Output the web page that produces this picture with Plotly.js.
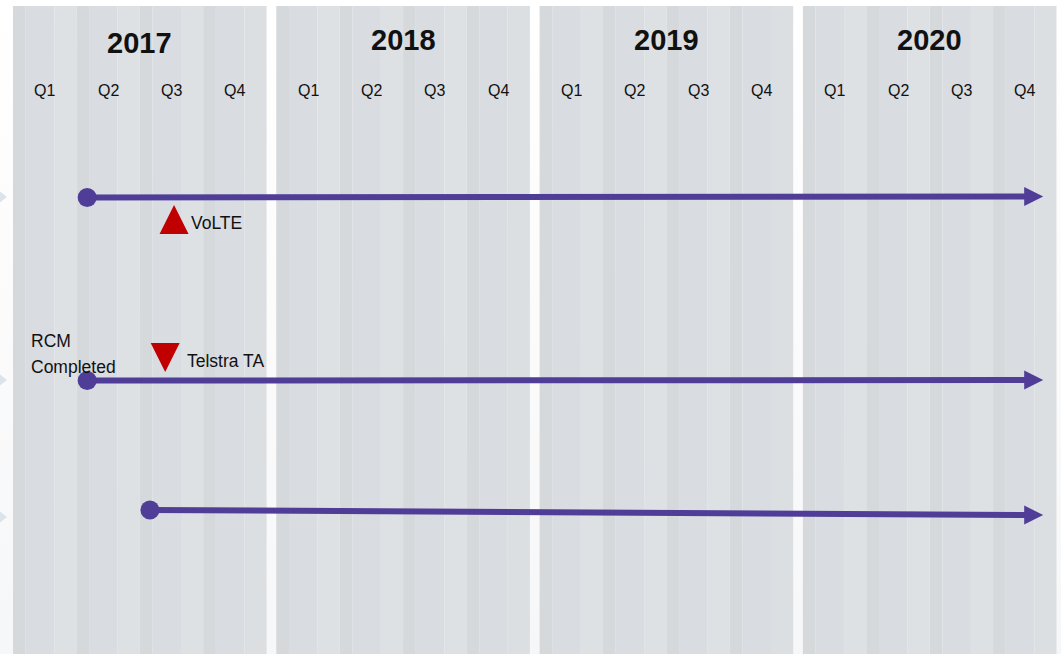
<!DOCTYPE html>
<html>
<head>
<meta charset="utf-8">
<script src="https://cdn.plot.ly/plotly-3.0.1.min.js"></script>
<style>
html,body{margin:0;padding:0;}
#chart{width:1061px;height:654px;background:linear-gradient(#ffffff 0%, #fbfbfc 50%, #f6f7f8 100%);}
</style>
</head>
<body>
<div id="chart"></div>
<script>
// ---------- data ----------
const years = ['2017', '2018', '2019', '2020'];
const quarters = ['Q1', 'Q2', 'Q3', 'Q4'];

// timeline bars: positions in quarters elapsed since start of 2017 Q1, row position
const lineStartQ = [1.17, 1.17, 2.16];
const lineEndQ = [15.79, 15.79, 15.79];
const lineStartRow = [197.5, 380.5, 510];
const lineEndRow = [196.5, 380, 515];

// milestones
const milestoneNames = ['VoLTE', 'Telstra TA'];
const milestoneQ = [2.54, 2.40];
const milestoneRow = [219.5, 357.5];
const milestoneDir = ['up', 'down'];

// notes
const noteLines = ['RCM', 'Completed'];
const noteQ = [0.27, 0.27];
const noteRow = [340.7, 366.7];

// left-edge chevrons rows
const chevronRows = [197, 380, 517];

// ---------- layout helpers ----------
const W = 1061, H = 654;
const X0 = 13, QW = 63.4, GAP = 9.7;
function qToX(q) {
  const yi = Math.min(3, Math.floor(q / 4));
  return X0 + q * QW + yi * GAP;
}
const purple = '#503d97';
const red = '#c00000';
const font = 'Liberation Sans, Arial, sans-serif';

const shapes = [];
const annotations = [];

// year panels with quarter strips
const stripFr = [[0, 0.2], [0.2, 0.65], [0.65, 1]];
const stripCol = ['#d5d9dc', '#d9dce0', '#dee1e4'];
const yearLabelRow = [42.5, 39.5, 39.5, 39.5];
years.forEach((yr, i) => {
  const px0 = X0 + i * (4 * QW + GAP);
  quarters.forEach((qq, j) => {
    const qx0 = px0 + j * QW;
    stripFr.forEach((fr, k) => {
      shapes.push({type: 'rect', xref: 'x', yref: 'y', layer: 'below',
        x0: qx0 + fr[0] * QW, x1: qx0 + fr[1] * QW, y0: 6, y1: H + 2,
        fillcolor: (j === 3 && k === 2) ? '#dcdfe2' : stripCol[k], line: {width: 0}});
    });
    annotations.push({x: qx0 + QW / 2, y: 90, xref: 'x', yref: 'y', text: qq, showarrow: false,
      xanchor: 'center', yanchor: 'middle', font: {family: font, size: 16, color: '#111'}});
  });
  annotations.push({x: px0 + 2 * QW, y: yearLabelRow[i], xref: 'x', yref: 'y', text: '<b>' + yr + '</b>',
    showarrow: false, xanchor: 'center', yanchor: 'middle', font: {family: font, size: 29, color: '#111'}});
});

// chevrons at left
chevronRows.forEach(r => {
  shapes.push({type: 'path', xref: 'x', yref: 'y', layer: 'below',
    path: `M -2 ${r - 7} L 7 ${r} L -2 ${r + 7} Z`, fillcolor: '#dde3ea', line: {width: 0}});
});

// timeline traces
const traces = [];
lineStartQ.forEach((sq, i) => {
  const xs = qToX(sq), xe = qToX(lineEndQ[i]);
  traces.push({x: [xs, xe - 14], y: [lineStartRow[i], lineEndRow[i]], type: 'scatter', mode: 'lines',
    line: {color: purple, width: 6}, hoverinfo: 'skip', showlegend: false});
  traces.push({x: [xs], y: [lineStartRow[i]], type: 'scatter', mode: 'markers',
    marker: {symbol: 'circle', size: 19, color: purple}, hoverinfo: 'skip', showlegend: false});
  const ty = lineEndRow[i];
  shapes.push({type: 'path', xref: 'x', yref: 'y',
    path: `M ${xe - 19} ${ty - 9.5} L ${xe} ${ty} L ${xe - 19} ${ty + 9.5} Z`,
    fillcolor: purple, line: {width: 0}});
});

// milestones
milestoneNames.forEach((nm, i) => {
  const x = qToX(milestoneQ[i]), y = milestoneRow[i], h = 14.5;
  const path = milestoneDir[i] === 'up'
    ? `M ${x - h} ${y + h} L ${x + h} ${y + h} L ${x} ${y - h} Z`
    : `M ${x - h} ${y - h} L ${x + h} ${y - h} L ${x} ${y + h} Z`;
  shapes.push({type: 'path', xref: 'x', yref: 'y', path: path, fillcolor: red, line: {width: 0}});
  const labelDx = milestoneDir[i] === 'up' ? 15 : 20;
  const labelDy = milestoneDir[i] === 'up' ? 3 : 3.5;
  annotations.push({x: x + labelDx, y: y + labelDy, xref: 'x', yref: 'y', text: nm, showarrow: false,
    xanchor: 'left', yanchor: 'middle', font: {family: font, size: 17.5, color: '#111'}});
});

// notes
noteLines.forEach((t, i) => {
  annotations.push({x: qToX(noteQ[i]) - 1, y: noteRow[i], xref: 'x', yref: 'y', text: t, showarrow: false,
    xanchor: 'left', yanchor: 'middle', font: {family: font, size: 17.5, color: '#111'}});
});

const layout = {
  width: W, height: H,
  margin: {l: 0, r: 0, t: 0, b: 0},
  paper_bgcolor: 'rgba(0,0,0,0)', plot_bgcolor: 'rgba(0,0,0,0)',
  xaxis: {range: [0, W], visible: false, fixedrange: true},
  yaxis: {range: [H, 0], visible: false, fixedrange: true},
  shapes: shapes, annotations: annotations, showlegend: false
};
Plotly.newPlot('chart', traces, layout, {displayModeBar: false, staticPlot: true});
</script>
</body>
</html>
